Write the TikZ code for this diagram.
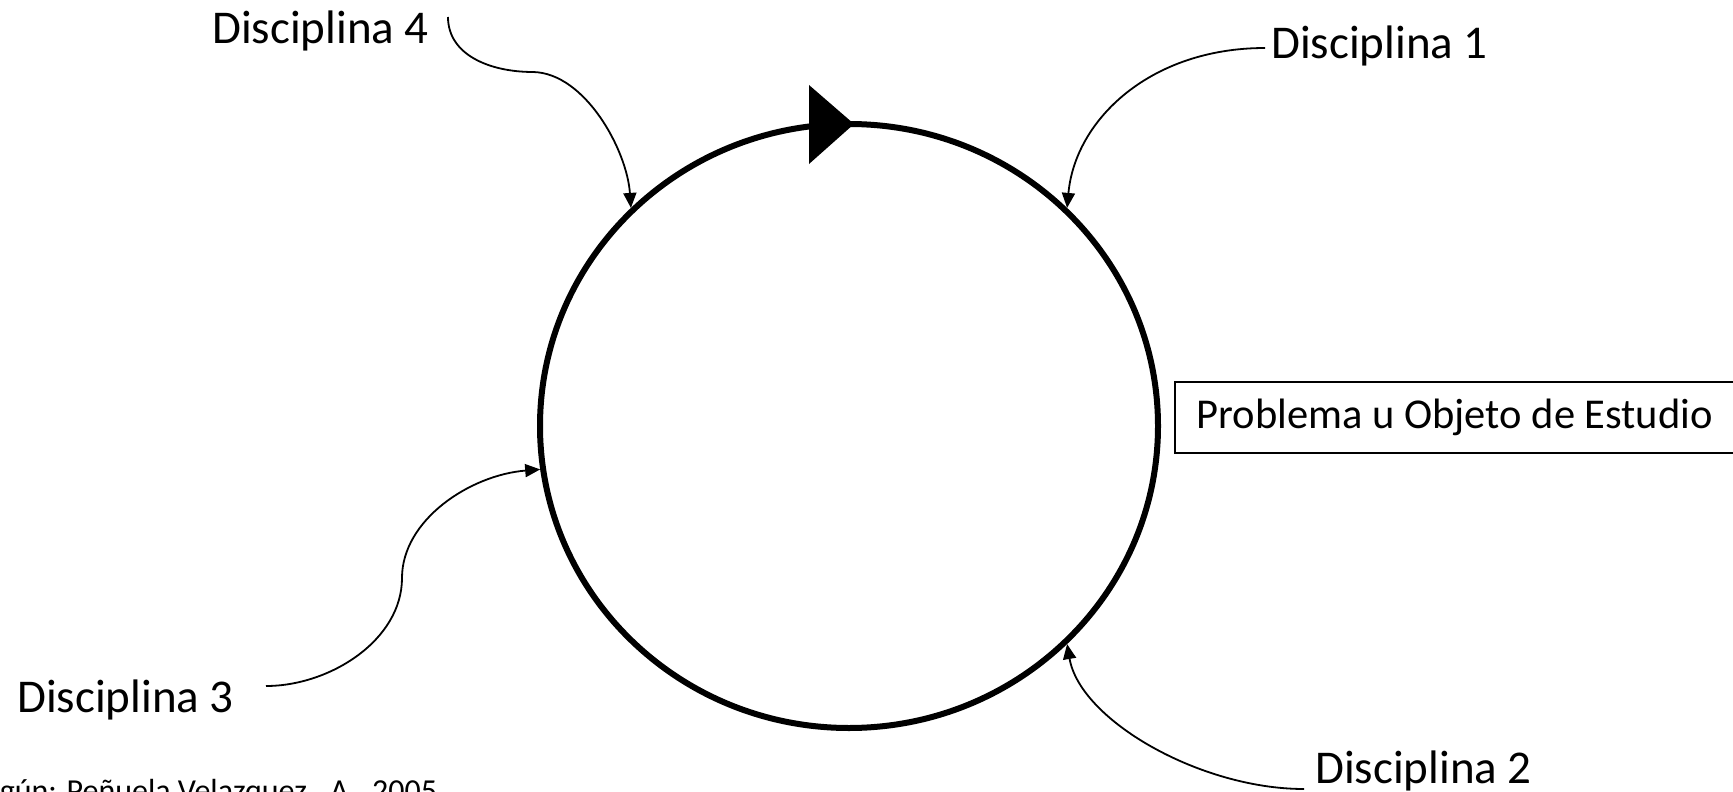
\documentclass[tikz,border=0pt]{standalone}
\usepackage{fontspec}
\setmainfont{Carlito}
\usetikzlibrary{arrows.meta,shapes.geometric}
\begin{document}
\begin{tikzpicture}[x=1pt,y=-1pt,
  lbl/.style={font=\fontsize{47}{56}\selectfont, inner sep=0pt, anchor=base west},
  conn/.style={line width=1.8pt, -{Triangle[length=15pt,width=13pt]}},
  ring/.style={draw, ellipse, line width=6pt, minimum width=618pt, minimum height=604pt, inner sep=0pt}]
\useasboundingbox (0,0) rectangle (1733,792);
\node[ring] (circ) at (849,426) {};
\fill (809,85) -- (854,124) -- (809,164) -- cycle;
\node[lbl] (d4) at (212,44) {Disciplina 4};
\node[lbl] (d1) at (1271,59) {Disciplina 1};
\node[lbl] (d3) at (17,712) {Disciplina 3};
\node[lbl] (d2) at (1315,783) {Disciplina 2};
\node[draw, line width=1.6pt, anchor=west, minimum height=71pt, inner xsep=22pt, inner ysep=0pt,
      font=\fontsize{42.5}{50}\selectfont] (box) at (1174,417.5)
      {\makebox[560pt][l]{Problema u Objeto de Estudio}};
\node[font=\fontsize{32}{38}\selectfont, inner sep=0pt, anchor=base west] (src) at (-31,801)
      {Según: Peñuela Velazquez., A., 2005};
\coordinate (d4s) at (448,17);
\coordinate (d1s) at (1265,48);
\coordinate (d3s) at (266,686);
\coordinate (d2s) at (1304,789);
\draw[conn] (d4s) .. controls (448,55) and (490,72) .. (533,72)
  .. controls (585,73) and (627,150) .. (circ.135);
\draw[conn] (d1s) .. controls (1150,48) and (1075,120) .. (circ.45);
\draw[conn] (d3s) .. controls (330,686) and (402,640) .. (402,578)
  .. controls (402,520) and (470,475) .. (circ.188);
\draw[conn] (d2s) .. controls (1200,789) and (1080,720) .. (circ.-45);
\end{tikzpicture}
\end{document}
